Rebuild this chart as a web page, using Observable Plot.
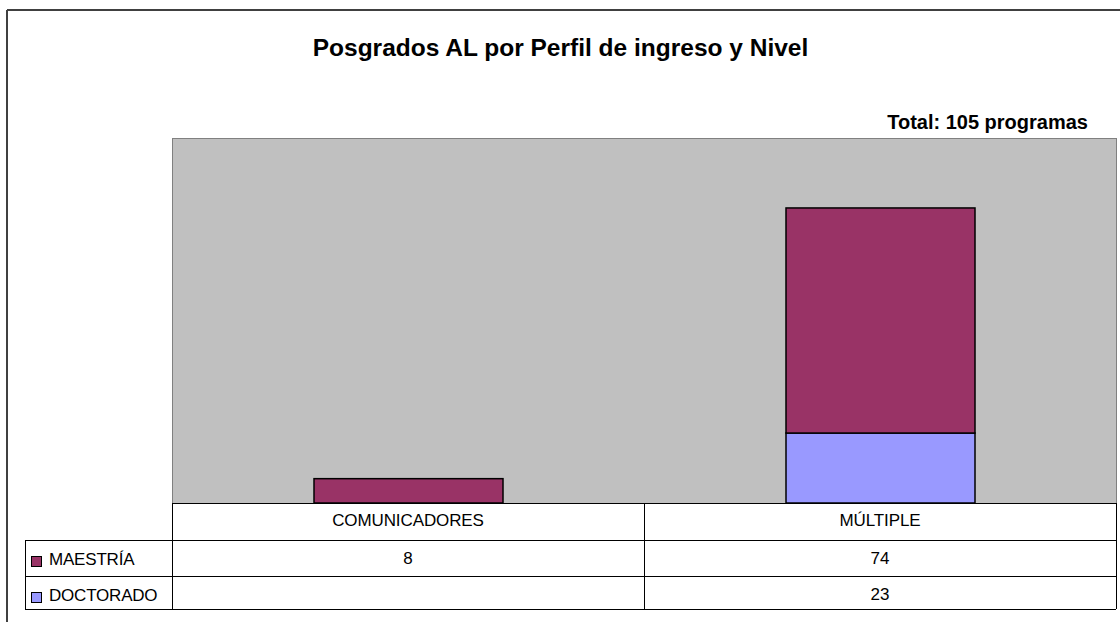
<!DOCTYPE html>
<html><head><meta charset="utf-8">
<script src="https://cdn.jsdelivr.net/npm/d3@7"></script>
<script src="https://cdn.jsdelivr.net/npm/@observablehq/plot@0.6"></script>
<style>
body{margin:0;background:#fff;font-family:"Liberation Sans",Arial,sans-serif;}
#wrap{position:relative;width:1120px;height:622px;overflow:hidden;background:#fff;}
.abs{position:absolute;}
.txt{position:absolute;white-space:nowrap;line-height:1;color:#000;}
</style></head><body><div id="wrap"></div>
<script>
const categories = ["COMUNICADORES", "MÚLTIPLE"];
const seriesNames = ["MAESTRÍA", "DOCTORADO"];
const maestria = [8, 74];
const doctorado = [null, 23];
const seriesColors = ["#993366", "#9999FF"];
const titleText = "Posgrados AL por Perfil de ingreso y Nivel";
const subtitleText = "Total: 105 programas";
const yDomain = [0, 120];

// stacking order: DOCTORADO at bottom, MAESTRÍA on top
const rows = [];
categories.forEach((c, i) => { if (doctorado[i] != null) rows.push({cat: c, serie: "DOCTORADO", value: doctorado[i]}); });
categories.forEach((c, i) => { if (maestria[i] != null) rows.push({cat: c, serie: "MAESTRÍA", value: maestria[i]}); });

const wrap = document.getElementById("wrap");

function box(css) {
  const d = document.createElement("div");
  d.className = "abs";
  Object.assign(d.style, css);
  wrap.appendChild(d);
  return d;
}
function hline(x1, x2, y, color = "#000", w = 1) { box({left: x1 + "px", top: (y - w / 2) + "px", width: (x2 - x1) + "px", height: w + "px", background: color}); }
function vline(x, y1, y2, color = "#000", w = 1) { box({left: (x - w / 2) + "px", top: y1 + "px", width: w + "px", height: (y2 - y1) + "px", background: color}); }
function text(str, x, baseline, size, opts = {}) {
  const d = document.createElement("div");
  d.className = "txt";
  d.textContent = str;
  d.style.fontSize = size + "px";
  d.style.fontWeight = opts.bold ? "bold" : "normal";
  d.style.top = (baseline - 0.8465 * size) + "px";
  if (opts.anchor === "middle") { d.style.left = (x - 300) + "px"; d.style.width = "600px"; d.style.textAlign = "center"; }
  else if (opts.anchor === "end") { d.style.right = (1120 - x) + "px"; d.style.textAlign = "right"; }
  else { d.style.left = x + "px"; }
  if (opts.ls) d.style.letterSpacing = opts.ls + "px";
  wrap.appendChild(d);
  return d;
}

// outer chart border (left and top visible)
vline(7, 10, 622, "#404040", 2);
hline(7, 1120, 10, "#404040", 2);

const chart = Plot.plot({
  width: 1120, height: 622,
  marginLeft: 172, marginRight: 4, marginTop: 138, marginBottom: 119,
  x: {domain: categories, paddingInner: 0.6, paddingOuter: 0.3, axis: null},
  y: {domain: yDomain, axis: null},
  color: {domain: seriesNames, range: seriesColors},
  style: {background: "transparent", overflow: "visible"},
  marks: [
    Plot.frame({fill: "#C0C0C0", stroke: "#808080"}),
    Plot.barY(rows, Plot.stackY({x: "cat", y: "value", fill: "serie", stroke: "#000", strokeWidth: 1.5}))
  ]
});
chart.style.position = "absolute";
chart.style.left = "0px";
chart.style.top = "0px";
wrap.appendChild(chart);

// titles
text(titleText, 560.5, 57, 24.5, {bold: true, anchor: "middle"});
text(subtitleText, 1088, 129, 20, {bold: true, anchor: "end"});

// data table aligned to the x scale
const xs = chart.scale("x");
const ys = chart.scale("y");
const r0 = xs.range[0], r1 = xs.range[1];
const colW = (r1 - r0) / categories.length;
const top0 = ys.range[0];            // plot bottom
const rowB = [top0 + 37, top0 + 73, top0 + 106];
const tableLeft = 25;

hline(r0, r1, top0);
rowB.forEach(y => hline(tableLeft, r1, y));
vline(tableLeft, rowB[0], rowB[2]);
for (let i = 0; i <= categories.length; i++) vline(r0 + i * colW, top0, rowB[2]);

categories.forEach((c, i) => {
  const cx = r0 + (i + 0.5) * colW;
  text(c, cx, top0 + 23.5, 17, {anchor: "middle", ls: -0.1});
  if (maestria[i] != null) text(String(maestria[i]), cx, rowB[0] + 24, 17, {anchor: "middle"});
  if (doctorado[i] != null) text(String(doctorado[i]), cx, rowB[1] + 24, 17, {anchor: "middle"});
});

// legend keys in row headers
const seriesRowsTop = [rowB[0], rowB[1]];
seriesNames.forEach((s, i) => {
  const yTop = seriesRowsTop[i];
  box({left: "31px", top: (yTop + 16) + "px", width: "9px", height: "9px", background: seriesColors[i], border: "1px solid #000"});
  text(s, 49, yTop + 25.5, 17, {ls: -0.2});
});
</script>
</body></html>
